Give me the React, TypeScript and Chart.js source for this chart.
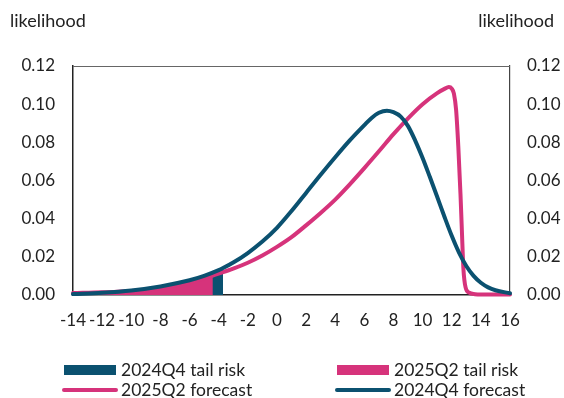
import React, { useEffect, useRef } from 'react';
import { Chart, registerables } from 'chart.js';

Chart.register(...registerables);

// ---- data ----
const xTicks = [-14, -12, -10, -8, -6, -4, -2, 0, 2, 4, 6, 8, 10, 12, 14, 16];
const yTicks = [0, 0.02, 0.04, 0.06, 0.08, 0.1, 0.12];

const tealX = [-14, -12, -10, -8, -6, -5, -4, -3.7, -3, -2, -1, 0, 1, 2, 3, 4, 5, 6, 6.5, 7, 7.55, 8, 8.5, 9, 9.5, 10, 10.5, 11, 11.5, 12, 12.5, 13, 13.5, 14, 14.5, 15, 16];
const tealY = [0.0005, 0.0012, 0.0024, 0.0045, 0.0077, 0.01, 0.013, 0.0141, 0.017, 0.022, 0.028, 0.0352, 0.044, 0.0535, 0.063, 0.0722, 0.081, 0.089, 0.0928, 0.0955, 0.0966, 0.0958, 0.0935, 0.0885, 0.0808, 0.0718, 0.0618, 0.0515, 0.041, 0.031, 0.0222, 0.0152, 0.01, 0.0064, 0.004, 0.0025, 0.0009];

const pinkX = [-14, -12, -10, -8, -6, -5, -4.4, -4, -3, -2, -1, 0, 1, 2, 3, 4, 5, 6, 7, 8, 9, 10, 11, 11.5, 11.8, 12, 12.15, 12.3, 12.45, 12.6, 12.7, 12.8, 12.95, 13.2, 13.6, 14, 16];
const pinkY = [0.001, 0.0014, 0.0021, 0.0036, 0.0066, 0.0088, 0.0102, 0.0112, 0.0138, 0.0169, 0.0207, 0.0252, 0.0303, 0.0365, 0.043, 0.05, 0.058, 0.0665, 0.0753, 0.0843, 0.0926, 0.1, 0.1058, 0.108, 0.109, 0.1082, 0.1055, 0.097, 0.078, 0.053, 0.033, 0.014, 0.004, 0.0012, 0.0004, 0.0002, 0.0002];

const tealTailEnd = -3.7;
const pinkTailEnd = -4.4;

const seriesLabels = ['2024Q4 tail risk', '2025Q2 tail risk', '2025Q2 forecast', '2024Q4 forecast'];
const axisTitle = 'likelihood';

// ---- styles ----
const TEAL = '#0b5170';
const PINK = '#d6337b';
const TEXT = '#222222';
const FONT = 'Lato, "Open Sans", sans-serif';
const FS = 17;

const toPoints = (xs: number[], ys: number[], maxX = Infinity) =>
  xs.map((x, i) => ({ x, y: ys[i] })).filter((p) => p.x <= maxX);

const decorPlugin = {
  id: 'decor',
  beforeDatasetsDraw(chart: any) {
    const { ctx, chartArea } = chart;
    ctx.save();
    ctx.strokeStyle = '#666';
    ctx.lineWidth = 1;
    ctx.beginPath();
    ctx.moveTo(chartArea.left, chartArea.top + 0.5);
    ctx.lineTo(chartArea.right, chartArea.top + 0.5);
    ctx.stroke();
    ctx.restore();
  },
  afterDraw(chart: any) {
    const { ctx } = chart;
    ctx.save();
    ctx.font = `18px ${FONT}`;
    ctx.fillStyle = TEXT;
    ctx.textBaseline = 'middle';
    ctx.textAlign = 'left';
    ctx.fillText(axisTitle, 10, 21);
    ctx.textAlign = 'right';
    ctx.fillText(axisTitle, 554, 21);

    // legend
    ctx.font = `17.5px ${FONT}`;
    const ds = chart.data.datasets;
    const items = [
      { i: 0, x: 64, y: 370, type: 'box' },
      { i: 1, x: 337, y: 370, type: 'box' },
      { i: 2, x: 64, y: 390, type: 'line' },
      { i: 3, x: 337, y: 390, type: 'line' },
    ];
    items.forEach((it) => {
      const d = ds[it.i];
      if (it.type === 'box') {
        ctx.fillStyle = d.backgroundColor;
        ctx.fillRect(it.x, it.y - 5, 52, 10);
      } else {
        ctx.strokeStyle = d.borderColor;
        ctx.lineWidth = 4;
        ctx.lineCap = 'round';
        ctx.beginPath();
        ctx.moveTo(it.x, it.y);
        ctx.lineTo(it.x + 52, it.y);
        ctx.stroke();
      }
      ctx.fillStyle = TEXT;
      ctx.textAlign = 'left';
      ctx.fillText(d.label, it.x + 57, it.y);
    });
    ctx.restore();
  },
};

export default function App() {
  const ref = useRef<HTMLCanvasElement | null>(null);

  useEffect(() => {
    if (!ref.current) return;
    const tickFont = { family: FONT, size: FS };
    const setTicks = (vals: number[]) => (scale: any) => {
      scale.ticks = vals.map((v) => ({ value: v }));
    };
    const lineBase = {
      pointRadius: 0,
      cubicInterpolationMode: 'monotone',
    };
    const chart = new Chart(ref.current, {
      type: 'line',
      data: {
        datasets: [
          {
            ...lineBase,
            label: seriesLabels[0],
            data: toPoints(tealX, tealY, tealTailEnd),
            backgroundColor: TEAL,
            borderColor: TEAL,
            borderWidth: 0,
            fill: 'origin',
            order: 3,
          },
          {
            ...lineBase,
            label: seriesLabels[1],
            data: toPoints(pinkX, pinkY, pinkTailEnd),
            backgroundColor: PINK,
            borderColor: PINK,
            borderWidth: 0,
            fill: 'origin',
            order: 2,
          },
          {
            ...lineBase,
            label: seriesLabels[2],
            data: toPoints(pinkX, pinkY),
            borderColor: PINK,
            backgroundColor: PINK,
            borderWidth: 4,
            fill: false,
            borderCapStyle: 'round',
            borderJoinStyle: 'round',
            clip: false,
            order: 1,
          },
          {
            ...lineBase,
            label: seriesLabels[3],
            data: toPoints(tealX, tealY),
            borderColor: TEAL,
            backgroundColor: TEAL,
            borderWidth: 4,
            fill: false,
            borderCapStyle: 'round',
            borderJoinStyle: 'round',
            clip: false,
            order: 0,
          },
        ],
      },
      options: {
        responsive: false,
        animation: false,
        layout: { padding: { top: 66, bottom: 68, left: 0, right: 0 } },
        plugins: {
          legend: { display: false },
          tooltip: { enabled: false },
          title: { display: false },
        },
        scales: {
          x: {
            type: 'linear',
            min: -14,
            max: 16,
            afterBuildTicks: setTicks(xTicks),
            afterFit: (s: any) => {
              s.height = 35;
            },
            ticks: {
              autoSkip: false,
              maxRotation: 0,
              minRotation: 0,
              padding: 15,
              color: TEXT,
              font: tickFont,
              callback: (v: any) => String(v),
            },
            grid: { display: false, drawTicks: false },
            border: { display: true, color: '#222', width: 1.5 },
          },
          y: {
            position: 'left',
            min: 0,
            max: 0.12,
            afterBuildTicks: setTicks(yTicks),
            afterFit: (s: any) => {
              s.width = 73;
            },
            ticks: {
              padding: 18,
              color: TEXT,
              font: tickFont,
              callback: (v: any) => Number(v).toFixed(2),
            },
            grid: { display: false, drawTicks: false },
            border: { display: true, color: '#222', width: 1.5 },
          },
          y2: {
            position: 'right',
            min: 0,
            max: 0.12,
            afterBuildTicks: setTicks(yTicks),
            afterFit: (s: any) => {
              s.width = 54;
            },
            ticks: {
              padding: 17,
              color: TEXT,
              font: tickFont,
              callback: (v: any) => Number(v).toFixed(2),
            },
            grid: { display: false, drawTicks: false },
            border: { display: true, color: '#444', width: 1.2 },
          },
        },
      } as any,
      plugins: [decorPlugin],
    });
    return () => chart.destroy();
  }, []);

  return (
    <div style={{ position: 'absolute', left: 0, top: 0, width: 564, height: 398, background: '#fff' }}>
      <canvas ref={ref} width={564} height={398} style={{ display: 'block' }} />
    </div>
  );
}
